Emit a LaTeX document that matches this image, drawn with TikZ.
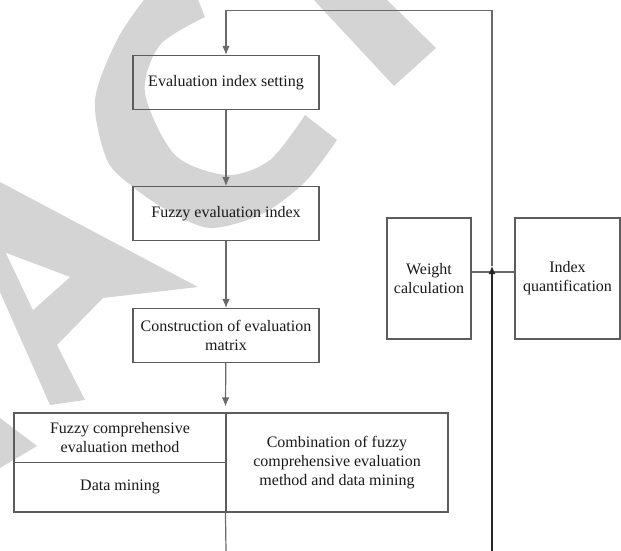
\documentclass[tikz,border=0pt]{standalone}
\usepackage{fontspec}
\setmainfont{Liberation Serif}
\usetikzlibrary{arrows.meta}
\tikzset{>={Latex[length=9pt,width=7.5pt]}}
\definecolor{wmgray}{HTML}{D4D4D4}
\definecolor{linegray}{HTML}{6A6A6A}
\definecolor{boxgray}{HTML}{5C5C5C}

\begin{document}
\begin{tikzpicture}[x=1pt, y=-1pt, font=\fontsize{16}{19}\selectfont,
    box/.style={draw=boxgray, line width=1.1pt, minimum width=186pt, minimum height=54pt, align=center, inner sep=1pt, text=black!90},
    flow/.style={draw=linegray, line width=1.2pt}]
    \useasboundingbox (0,0) rectangle (621,550);
    % watermark
    \begin{scope}
        \clip (0,0) rectangle (621,550);
        \fill[wmgray] plot[smooth] coordinates {(150,-8) (118,38) (95,100) (107,160) (133,187) (167,210) (210,228) (262,214) (305,182) (337,140)}
            -- plot[smooth] coordinates {(305,115) (270,160) (227,175) (175,155) (145,93) (160,45) (205,17)} -- (195,-8) -- cycle;
        \fill[wmgray] (313,-1) -- (386,-1) -- (436,48) -- (394,86) -- cycle;
        \fill[wmgray] (0,182) -- (198,287) -- (103,298) -- (57,345) -- (85,400) -- (50,405) -- (0,292) -- cycle;
        \fill[white] (6,253) -- (70,277) -- (33,310) -- cycle;
        \fill[wmgray] (0,418) -- (37,446) -- (0,468) -- cycle;
    \end{scope}
    % left column
    \node[box] (setting) at (226,82.5) {Evaluation index setting};
    \node[box] (fuzzy) at (226,213.7) {Fuzzy evaluation index};
    \node[box] (matrix) at (226,335.5) {Construction of evaluation\\matrix};
    \node[box, minimum width=212pt, minimum height=49.5pt] (fcem) at (120,437.75) {Fuzzy comprehensive\\evaluation method};
    \node[box, minimum width=212pt, minimum height=49.5pt] (dm) at (120,487.25) {Data mining};
    \node[box, minimum width=222pt, minimum height=99pt] (combo) at (337,462.5) {Combination of fuzzy\\comprehensive evaluation\\method and data mining};
    % right column
    \node[box, minimum width=84pt, minimum height=121pt] (weight) at (429,278.5) {Weight\\calculation};
    \node[box, minimum width=105pt, minimum height=121pt] (quant) at (567.5,278.5) {Index\\quantification};
    \coordinate (junc) at (492,272);
    \coordinate (tip) at (492,266);
    \coordinate (loop) at (492,10.5);
    \coordinate (feed) at (492,551);
    \coordinate (exit) at (226,551);
    \draw[flow] (weight.east |- junc) -- (quant.west |- junc);
    \draw[flow, ->] (tip) -- (loop) -| (setting.north);
    \draw[line width=1.3pt, black!85, -{Latex[length=8pt,width=7pt]}] (feed) -- (tip);
    \draw[flow, ->] (setting) -- (fuzzy);
    \draw[flow, ->] (fuzzy) -- (matrix);
    \draw[flow, ->, shorten >=6pt] (matrix) -- (combo.north west);
    \draw[flow] (combo.south west) -- (exit);
\end{tikzpicture}
\end{document}
